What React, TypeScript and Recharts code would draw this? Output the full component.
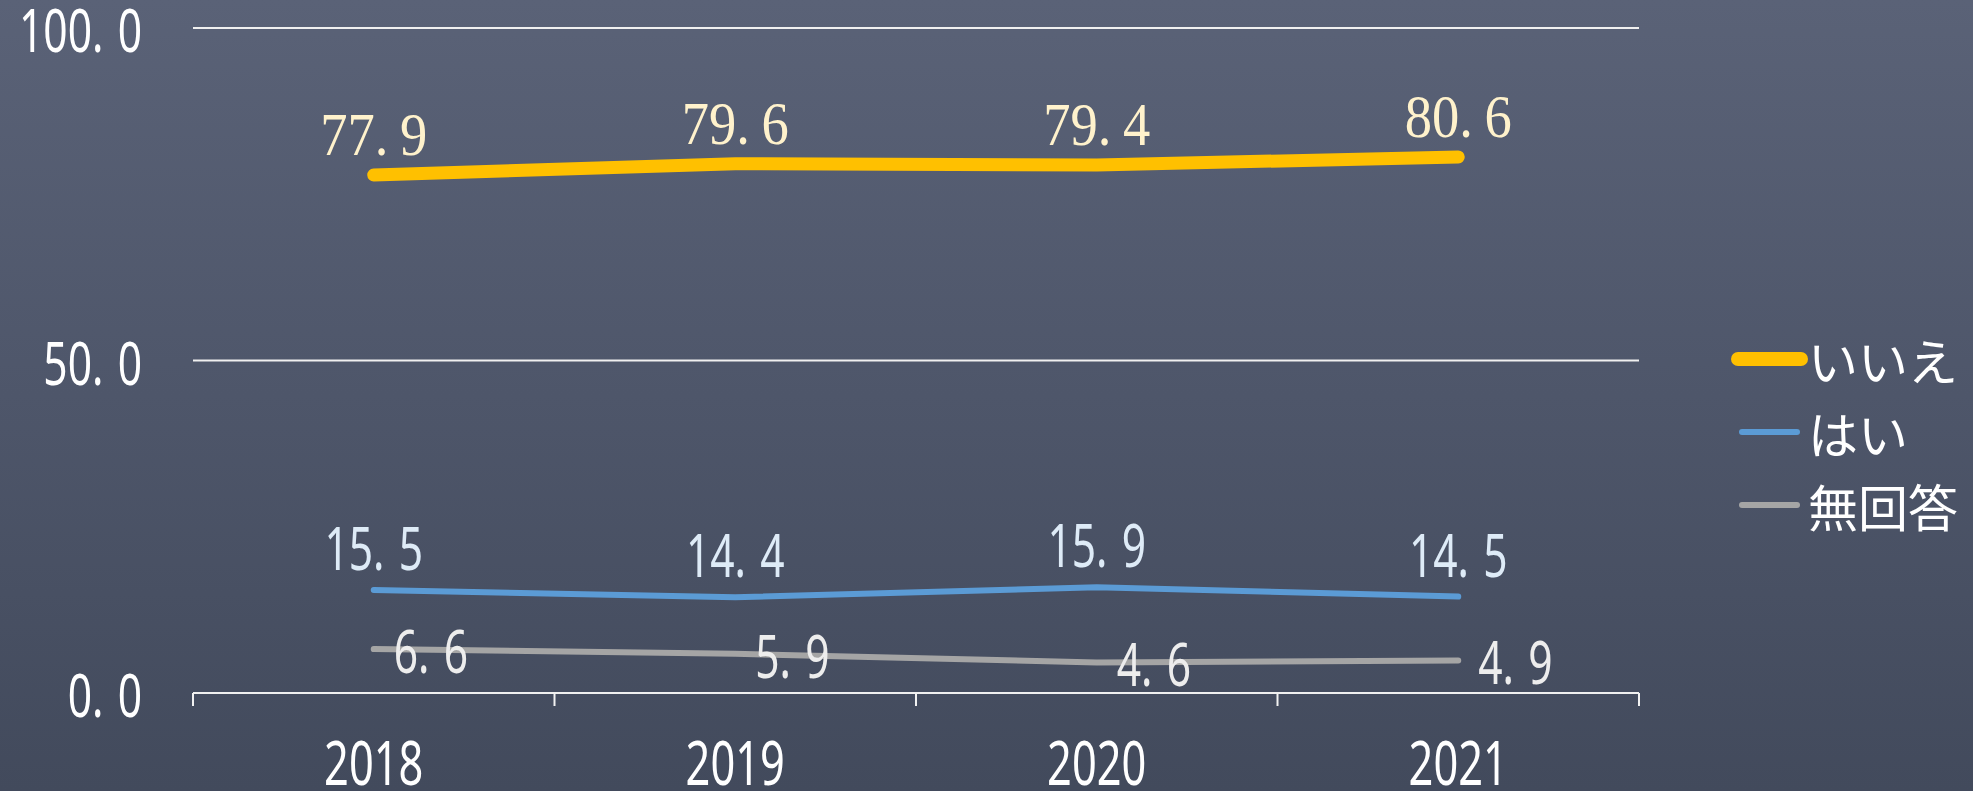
import { CartesianGrid, Legend, LabelList, Line, LineChart, XAxis, YAxis } from 'recharts';

const years = ['2018', '2019', '2020', '2021'];
const iie = [77.9, 79.6, 79.4, 80.6];
const hai = [15.5, 14.4, 15.9, 14.5];
const noAnswer = [6.6, 5.9, 4.6, 4.9];
const yTicks = [0, 50, 100];

const series = [
  { key: 'iie', name: 'いいえ', color: '#FFC000', width: 13, label: '#FFF2CC' },
  { key: 'hai', name: 'はい', color: '#5B9BD5', width: 6, label: '#DEEBF7' },
  { key: 'none', name: '無回答', color: '#A5A5A5', width: 6, label: '#EDEDED' },
];

const data = years.map((year, i) => ({ year, iie: iie[i], hai: hai[i], none: noAnswer[i] }));

const W = 1973;
const H = 791;
const M = { top: 28, right: 334, bottom: 0, left: 0 };
const Y_W = 193;
const X_H = 98;
const plotW = W - M.left - M.right - Y_W;
const step = plotW / years.length;

const SANS = '"Noto Sans", sans-serif';
const SERIF = '"Liberation Serif", serif';

function NumText({ x, y, value, anchor, fill, family = SANS, size = 60, sx = 0.71, gap = 20 }: any) {
  const [a, b] = Number(value).toFixed(1).split('.');
  return (
    <text
      transform={`translate(${x},${y}) scale(${sx},1)`}
      textAnchor={anchor}
      fill={fill}
      fontFamily={family}
      fontSize={size}
    >
      <tspan>{a}.</tspan>
      <tspan dx={gap}>{b}</tspan>
    </text>
  );
}

function YTick({ x, y, payload }: any) {
  return <NumText x={x - 51} y={y + 24} value={payload.value} anchor="end" fill="#ffffff" />;
}

function XTick({ x, y, payload, index }: any) {
  const last = index === years.length - 1;
  return (
    <g>
      <line x1={x - step / 2} x2={x - step / 2} y1={y} y2={y + 13} stroke="#f2f2f2" strokeWidth={2} />
      {last && <line x1={x + step / 2} x2={x + step / 2} y1={y} y2={y + 13} stroke="#f2f2f2" strokeWidth={2} />}
      <text
        transform={`translate(${x},${y + 92}) scale(0.7,1)`}
        textAnchor="middle"
        fill="#ffffff"
        fontFamily={SANS}
        fontSize={62}
      >
        {payload.value}
      </text>
    </g>
  );
}

const aboveSerif = (fill: string) => (p: any) => (
  <NumText x={p.x} y={p.y - 20} value={p.value} anchor="middle" fill={fill} family={SERIF} size={62} sx={0.88} gap={13} />
);
const aboveSans = (fill: string) => (p: any) => (
  <NumText x={p.x} y={p.y - 20} value={p.value} anchor="middle" fill={fill} />
);
const rightSans = (fill: string) => (p: any) => (
  <NumText x={p.x + 20} y={p.y + 24} value={p.value} anchor="start" fill={fill} />
);

function LegendBox() {
  return (
    <div style={{ display: 'flex', flexDirection: 'column' }}>
      {series.map((s) => (
        <div key={s.key} style={{ display: 'flex', alignItems: 'center', height: 73 }}>
          <svg width={77} height={20}>
            <line
              x1={s.width > 8 ? 7 : 11}
              x2={s.width > 8 ? 70 : 66}
              y1={10}
              y2={10}
              stroke={s.color}
              strokeWidth={s.width > 8 ? 14 : 6}
              strokeLinecap="round"
            />
          </svg>
          <span style={{ fontFamily: '"Noto Sans CJK JP", sans-serif', fontSize: 50, color: '#ffffff', lineHeight: 1 }}>
            {s.name}
          </span>
        </div>
      ))}
    </div>
  );
}

export default function App() {
  return (
    <div
      style={{
        position: 'absolute',
        left: 0,
        top: 0,
        width: W,
        height: H,
        overflow: 'hidden',
        background: 'linear-gradient(180deg, #5a6277 0%, #4e566a 50%, #424a5c 100%)',
      }}
    >
      <LineChart width={W} height={H} data={data} margin={M}>
        <CartesianGrid horizontal vertical={false} stroke="#f0f0f0" strokeWidth={2} />
        <XAxis
          dataKey="year"
          height={X_H}
          padding={{ left: step / 2, right: step / 2 }}
          axisLine={{ stroke: '#f0f0f0', strokeWidth: 2 }}
          tickLine={false}
          tickSize={0}
          tickMargin={0}
          tick={<XTick />}
          interval={0}
        />
        <YAxis
          width={Y_W}
          domain={[0, 100]}
          ticks={yTicks}
          axisLine={false}
          tickLine={false}
          tickSize={0}
          tickMargin={0}
          tick={<YTick />}
        />
        <Legend
          content={<LegendBox />}
          layout="vertical"
          verticalAlign="middle"
          align="center"
          wrapperStyle={{ position: 'absolute', left: 1731, top: 322, width: 242 }}
        />
        <Line
          dataKey="iie"
          name="いいえ"
          stroke="#FFC000"
          strokeWidth={13}
          strokeLinecap="round"
          strokeLinejoin="round"
          dot={false}
          activeDot={false}
          isAnimationActive={false}
        >
          <LabelList dataKey="iie" content={aboveSerif('#FFF2CC')} />
        </Line>
        <Line
          dataKey="hai"
          name="はい"
          stroke="#5B9BD5"
          strokeWidth={6}
          strokeLinecap="round"
          strokeLinejoin="round"
          dot={false}
          activeDot={false}
          isAnimationActive={false}
        >
          <LabelList dataKey="hai" content={aboveSans('#DEEBF7')} />
        </Line>
        <Line
          dataKey="none"
          name="無回答"
          stroke="#A5A5A5"
          strokeWidth={6}
          strokeLinecap="round"
          strokeLinejoin="round"
          dot={false}
          activeDot={false}
          isAnimationActive={false}
        >
          <LabelList dataKey="none" content={rightSans('#EDEDED')} />
        </Line>
      </LineChart>
    </div>
  );
}
